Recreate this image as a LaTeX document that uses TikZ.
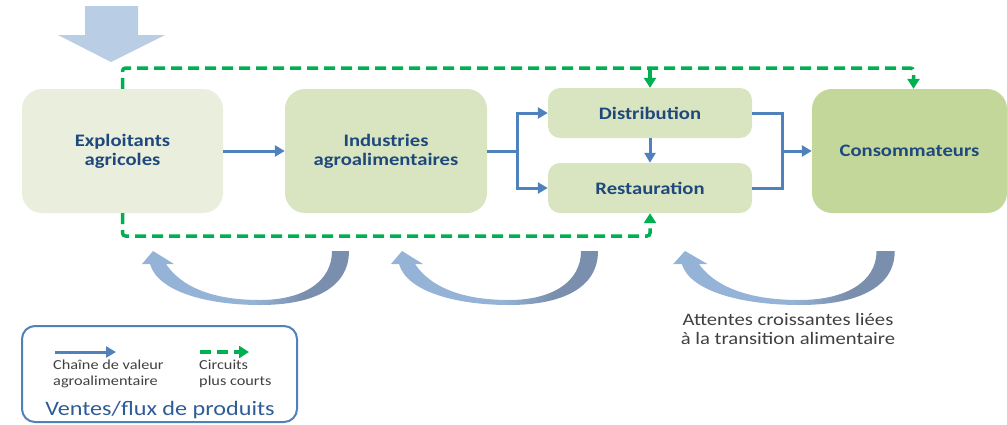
\documentclass[tikz,border=0pt]{standalone}
\usepackage{fontspec}
\setmainfont{Carlito}[FakeStretch=1.18]
\usetikzlibrary{arrows.meta,calc}
\definecolor{txtblue}{HTML}{1F497D}
\definecolor{lineblue}{HTML}{4F81BD}
\definecolor{dgreen}{HTML}{00B050}
\definecolor{fexp}{HTML}{EAEFDD}
\definecolor{find}{HTML}{D9E5C0}
\definecolor{fcons}{HTML}{C4D79B}
\definecolor{bigarrow}{HTML}{B9CDE5}
\definecolor{cl}{HTML}{95B3D7}
\definecolor{cd}{HTML}{7A8FAE}
\definecolor{legtxt}{HTML}{404040}
\definecolor{legtitle}{HTML}{2E5C96}
\pgfdeclarehorizontalshading{curvsh}{100bp}{color(0bp)=(cl); color(25bp)=(cl); color(52bp)=(cl); color(64bp)=(cd); color(100bp)=(cd)}
\tikzset{
  box/.style={rounded corners=20pt, inner sep=0pt, align=center, text=txtblue,
    font=\fontsize{17.5}{19}\selectfont\bfseries},
  sbox/.style={rounded corners=12pt, inner sep=0pt, align=center, text=txtblue,
    font=\fontsize{17.5}{19}\selectfont\bfseries, fill=find,
    minimum width=204pt, minimum height=50pt},
  bline/.style={draw=lineblue, line width=3pt},
  barrow/.style={bline, -{Triangle[length=10pt,width=11pt]}},
  gline/.style={draw=dgreen, line width=3.5pt, dash pattern=on 11pt off 6pt, rounded corners=3pt},
  garrow/.style={gline, -{Triangle[length=10pt,width=12pt]}},
  legtext/.style={anchor=north west, align=left, inner sep=0pt, text=legtxt,
    font=\fontsize{13.8}{15.5}\selectfont},
}
\newcommand\curvarr[3]{%
  \begin{scope}[shift={(#1,0)}, xscale=#2]
    \shade[shading=curvsh] (0,251) -- (21,264) -- (13,264)
      .. controls (32,292) and (70,300) .. (107,300)
      .. controls (150,300) and (179,282) .. (179,251)
      -- (196,251)
      .. controls (196,288) and (160,305) .. (107,305)
      .. controls (55,305) and (5,292) .. (-3,264)
      -- (-11,264) -- cycle;
  \end{scope}}
\begin{document}
\begin{tikzpicture}[x=1pt,y=-1pt]
\useasboundingbox (0,0) rectangle (1007,424);
% big input arrow
\fill[bigarrow] (85,6) -- (138,6) -- (138,35) -- (165,35) -- (111,62) -- (58,35) -- (85,35) -- cycle;
% nodes
\node[box, fill=fexp, minimum width=201pt, minimum height=124pt] (exp) at (122.5,151) {Exploitants\\agricoles};
\node[box, fill=find, minimum width=202pt, minimum height=124pt] (ind) at (386,151) {Industries\\agroalimentaires};
\node[sbox] (dist) at (650,113) {Distribution};
\node[sbox] (rest) at (650,188) {Restauration};
\node[box, fill=fcons, minimum width=195pt, minimum height=124pt] (cons) at (909.5,151) {Consommateurs};
% blue value chain
\coordinate (j1) at (517,151);
\coordinate (j2) at (782,151);
\draw[barrow] (exp.east) -- (ind.west);
\draw[bline] (ind.east) -- (j1);
\draw[barrow] (j1) |- (dist.west);
\draw[barrow] (j1) |- (rest.west);
\draw[barrow] (dist.south) -- (rest.north);
\draw[bline] (dist.east) -| (j2);
\draw[bline] (rest.east) -| (j2);
\draw[barrow] (j2) -- (cons.west);
% green short circuits
\coordinate (gt) at (650,68);
\coordinate (gb) at (650,236);
\draw[garrow] (exp.north) |- (gt) -| ([xshift=4pt]cons.north);
\draw[garrow] (gt) -- (dist.north);
\draw[garrow] (exp.south) |- (gb) -- (rest.south);
% curved arrows
\curvarr{153}{1}{}
\curvarr{402}{1}{}
\curvarr{685}{1.07}{}
\node[align=center, inner sep=0pt, text=legtxt, font=\fontsize{17.5}{18.5}\selectfont] (att) at (788,329)
  {Attentes croissantes liées\\à la transition alimentaire};
% legend
\node[draw=lineblue, line width=2pt, rounded corners=13pt, minimum width=275pt, minimum height=96pt, inner sep=0pt] (leg) at (159.5,374) {};
\coordinate (lb1) at (55,352);
\coordinate (lb2) at (116,352);
\coordinate (lg1) at (200,352);
\coordinate (lg2) at (249,352);
\draw[barrow] (lb1) -- (lb2);
\draw[garrow, rounded corners=0pt] (lg1) -- (lg2);
\node[legtext] (l1) at (53,360) {Chaîne de valeur\\agroalimentaire};
\node[legtext] (l2) at (199,360) {Circuits\\plus courts};
\node[inner sep=0pt, text=legtitle, font=\fontsize{20.5}{22}\selectfont] (lt) at (160,410) {Ventes/flux de produits};
\end{tikzpicture}
\end{document}
